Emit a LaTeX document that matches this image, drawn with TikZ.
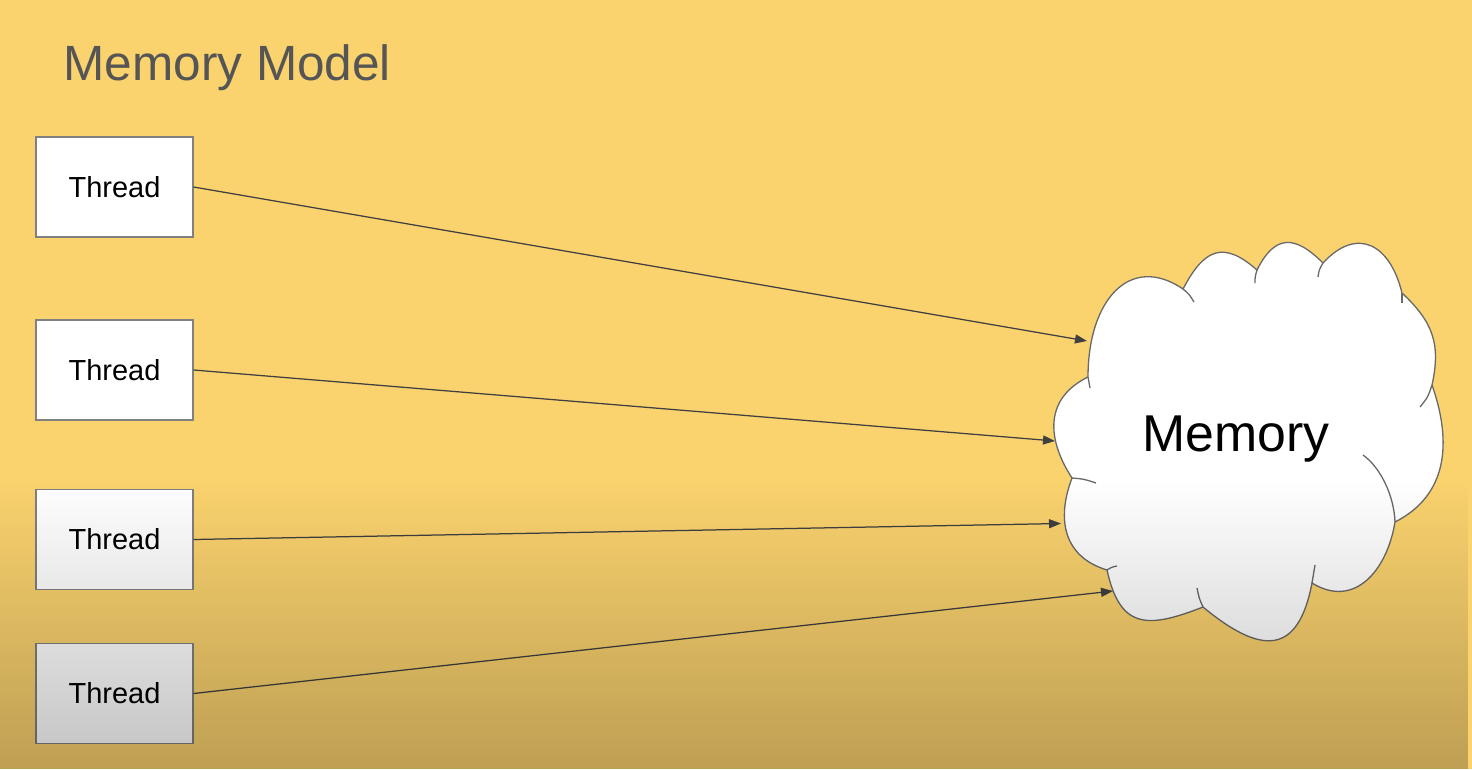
\documentclass[tikz,border=0pt]{standalone}
\usepackage{fontspec}
\setmainfont{Liberation Sans}
\usetikzlibrary{arrows.meta,fadings}
\definecolor{bgyellow}{RGB}{250,210,110}
\definecolor{titlegray}{RGB}{85,85,85}
\definecolor{linegray}{RGB}{64,64,64}
\definecolor{boxborder}{RGB}{128,128,128}
\definecolor{cloudline}{RGB}{105,105,105}
\tikzfading[name=darkdown, top color=transparent!100, bottom color=transparent!0]
\tikzset{
  threadbox/.style={draw=boxborder, line width=1.2pt, fill=white,
    minimum width=157pt, minimum height=100pt, inner sep=0pt,
    font=\fontsize{29}{35}\selectfont},
  conn/.style={draw=linegray, line width=1.25pt, -{Triangle[length=12pt,width=9pt]}},
  lobe/.style={draw=cloudline, line width=1.3pt},
}
\begin{document}
\begin{tikzpicture}[x=1pt,y=-1pt]
\useasboundingbox (0,0) rectangle (1472,769);
\fill[bgyellow] (0,0) rectangle (1472,769);

% title
\node[anchor=base west, inner sep=0pt, text=titlegray,
      font=\fontsize{49.5}{60}\selectfont] (title) at (63.5,80) {Memory Model};

% threads
\node[threadbox] (t1) at (114.5,187) {Thread};
\node[threadbox] (t2) at (114.5,370) {Thread};
\node[threadbox] (t3) at (114.5,539.5) {Thread};
\node[threadbox] (t4) at (114.5,693.5) {Thread};

% cloud
\path[fill=white, lobe]
  (1088,377) .. controls (1088,300) and (1130,253) .. (1183,289)
  .. controls (1204,249) and (1223,240) .. (1257,270)
  .. controls (1275,234) and (1295,235) .. (1323,263)
  .. controls (1357,226) and (1390,244) .. (1402,293)
  .. controls (1433,322) and (1441,344) .. (1432,385)
  .. controls (1452,442) and (1448,495) .. (1395,522)
  .. controls (1387,571) and (1354,609) .. (1312,583)
  .. controls (1298,656) and (1261,655) .. (1203,607)
  .. controls (1147,629) and (1120,629) .. (1107,570)
  .. controls (1064,557) and (1056,520) .. (1072,478)
  .. controls (1046,438) and (1045,398) .. (1088,377) -- cycle;
% inner tails of the cloud
\draw[lobe] (1088,377) -- (1090,388);
\draw[lobe] (1183,289) .. controls (1189,294) .. (1194,302);
\draw[lobe] (1257,270) .. controls (1255,277) .. (1255,283);
\draw[lobe] (1323,263) .. controls (1319,270) .. (1318,277);
\draw[lobe] (1402,293) -- (1402,303);
\draw[lobe] (1432,385) .. controls (1428,397) .. (1420,407);
\draw[lobe] (1363,455) .. controls (1380,467) and (1394,495) .. (1395,522);
\draw[lobe] (1312,583) .. controls (1313,574) .. (1315,565);
\draw[lobe] (1203,607) .. controls (1199,598) .. (1197,588);
\draw[lobe] (1107,570) .. controls (1112,567) .. (1117,566);
\draw[lobe] (1072,478) .. controls (1084,479) .. (1096,483);

\node[anchor=base west, inner sep=0pt, font=\fontsize{51.8}{60}\selectfont] (mem) at (1142,451) {Memory};

% arrow targets on the cloud outline
\coordinate (m1) at (1087,341);
\coordinate (m2) at (1055,441);
\coordinate (m3) at (1061,523.5);
\coordinate (m4) at (1113,591);

\draw[conn] (t1.east) -- (m1);
\draw[conn] (t2.east) -- (m2);
\draw[conn] (t3.east) -- (m3);
\draw[conn] (t4.east) -- (m4);

% darkening toward the bottom
\fill[black, fill opacity=0.24, path fading=darkdown] (0,480) rectangle (1472,769);
\end{tikzpicture}
\end{document}
